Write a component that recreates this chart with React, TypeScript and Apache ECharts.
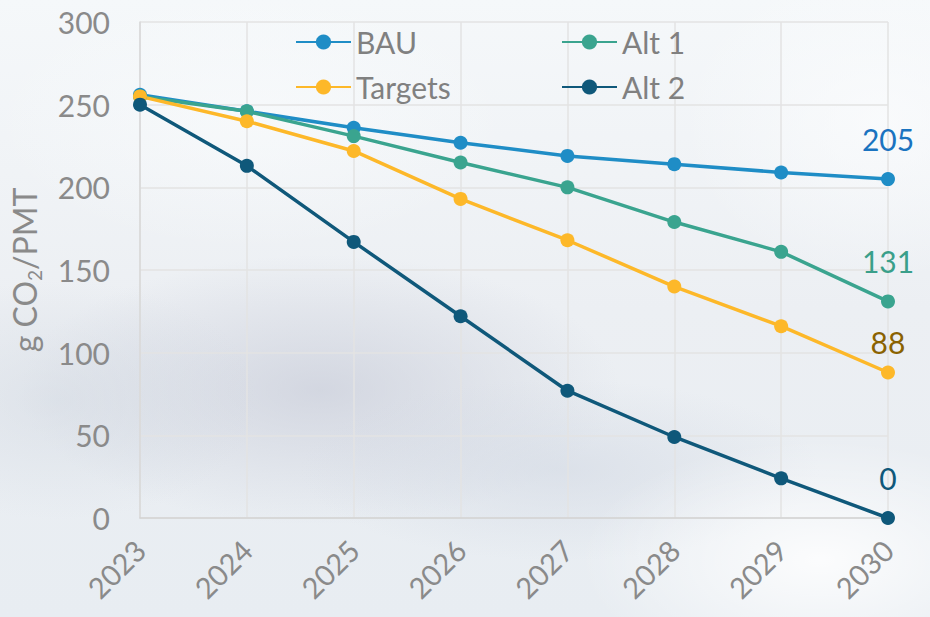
import React, { useEffect, useRef } from "react";
import * as echarts from "echarts";

const years = ["2023", "2024", "2025", "2026", "2027", "2028", "2029", "2030"];
const bau = [256, 246, 236, 227, 219, 214, 209, 205];
const alt1 = [255, 246, 231, 215, 200, 179, 161, 131];
const targets = [255, 240, 222, 193, 168, 140, 116, 88];
const alt2 = [250, 213, 167, 122, 77, 49, 24, 0];
const yTicks = { min: 0, max: 300, interval: 50 };

const FONT = "Lato";

function withEndLabel(vals: number[], color: string, distance: number) {
  return vals.map((v, i) =>
    i === vals.length - 1
      ? {
          value: v,
          label: {
            show: true,
            position: "top",
            distance,
            color,
            fontSize: 30,
            fontFamily: FONT,
          },
        }
      : v
  );
}

function blob(x: number, y: number, r: number, sy: number, color: string) {
  return {
    type: "circle",
    x,
    y,
    scaleY: sy,
    z: -10,
    silent: true,
    shape: { cx: 0, cy: 0, r },
    style: {
      fill: {
        type: "radial",
        x: 0.5,
        y: 0.5,
        r: 0.5,
        colorStops: [
          { offset: 0, color },
          { offset: 1, color: color.replace(/[\d.]+\)$/, "0)") },
        ],
      },
    },
  };
}

export default function App() {
  const ref = useRef<HTMLDivElement>(null);
  useEffect(() => {
    document.body.style.margin = "0";
    const chart = echarts.init(ref.current!, null, { renderer: "svg" });
    const mk = (name: string, data: any[], color: string) => ({
      name,
      type: "line",
      data,
      symbol: "circle",
      symbolSize: 14,
      lineStyle: { width: 3.5, color },
      itemStyle: { color },
      z: 3,
    });
    const legendBase = {
      padding: 0,
      itemWidth: 55,
      itemHeight: 19,
      itemGap: 0,
      textStyle: { fontSize: 30, color: "#808080", fontFamily: FONT },
    };
    chart.setOption({
      animation: false,
      backgroundColor: "#eef2f5",
      graphic: [
        {
          type: "rect",
          z: -20,
          silent: true,
          shape: { x: 0, y: 0, width: 930, height: 617 },
          style: {
            fill: {
              type: "linear",
              x: 0,
              y: 0,
              x2: 0,
              y2: 1,
              colorStops: [
                { offset: 0, color: "#f5f8fa" },
                { offset: 0.5, color: "#eceff3" },
                { offset: 1, color: "#e8edf2" },
              ],
            },
          },
        },
        blob(320, 390, 300, 0.45, "rgba(198,202,215,0.65)"),
        blob(60, 400, 200, 0.6, "rgba(205,212,222,0.45)"),
        blob(560, 470, 260, 0.35, "rgba(205,212,224,0.5)"),
        blob(820, 560, 240, 0.5, "rgba(255,255,255,0.85)"),
        blob(880, 120, 200, 0.8, "rgba(252,253,254,0.7)"),
        blob(250, 120, 260, 0.5, "rgba(250,252,253,0.6)"),
      ],
      grid: { left: 140, right: 42, top: 22, bottom: 99, containLabel: false },
      legend: [
        { ...legendBase, data: ["BAU"], left: 295, top: 27 },
        { ...legendBase, data: ["Alt 1"], left: 561, top: 27 },
        { ...legendBase, data: ["Targets"], left: 295, top: 72 },
        { ...legendBase, data: ["Alt 2"], left: 561, top: 72 },
      ],
      xAxis: {
        type: "category",
        data: years,
        boundaryGap: false,
        axisTick: { show: false },
        axisLine: { lineStyle: { color: "#d3d3d3", width: 1.5 } },
        splitLine: { show: true, lineStyle: { color: "#e3e3e3", width: 1.5 } },
        axisLabel: {
          rotate: 45,
          fontSize: 29,
          color: "#8a8a8a",
          fontFamily: FONT,
          margin: 27,
        },
      },
      yAxis: {
        type: "value",
        ...yTicks,
        axisLine: { show: true, lineStyle: { color: "#d9d9d9", width: 1.5 } },
        axisTick: { show: false },
        splitLine: { lineStyle: { color: "#e3e3e3", width: 1.5 } },
        axisLabel: {
          fontSize: 30,
          color: "#8a8a8a",
          fontFamily: FONT,
          margin: 30,
        },
        name: "{a|g CO}{s|2}{a|/PMT}",
        nameLocation: "middle",
        nameGap: 96,
        nameTextStyle: {
          rich: {
            a: { fontSize: 32, color: "#8a8a8a", fontFamily: FONT },
            s: {
              fontSize: 19,
              color: "#8a8a8a",
              fontFamily: FONT,
              padding: [20, 0, 0, 0],
            },
          },
        },
      },
      series: [
        mk("BAU", withEndLabel(bau, "#1a73c0", 18), "#1f8dc6"),
        mk("Alt 1", withEndLabel(alt1, "#3a9f8a", 18), "#3aa48f"),
        mk("Targets", withEndLabel(targets, "#8a6200", 9), "#fdb829"),
        mk("Alt 2", withEndLabel(alt2, "#0f587a", 18), "#0f587a"),
      ],
    });
    return () => chart.dispose();
  }, []);
  return (
    <div
      ref={ref}
      style={{ position: "absolute", left: 0, top: 0, width: 930, height: 617 }}
    />
  );
}
